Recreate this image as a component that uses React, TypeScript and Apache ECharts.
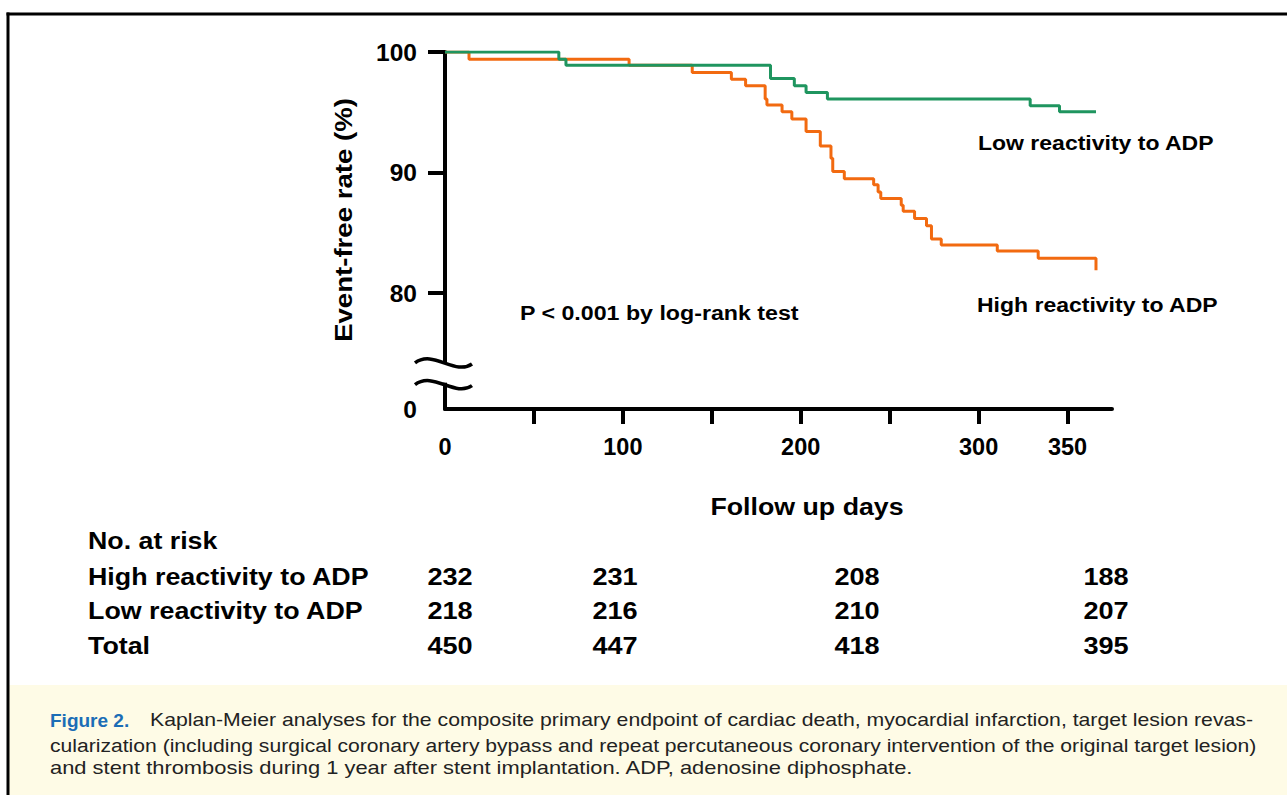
import { useEffect, useRef } from "react";
import * as echarts from "echarts";

const FONT = '"Liberation Sans", Arial, Helvetica, sans-serif';

// Kaplan-Meier step data (day, event-free %)
const highDays = [0, 13.5, 103.5, 139, 161, 169, 180, 181, 189.5, 195, 203, 211, 217, 218, 224.5, 241, 243.5, 245, 256.5, 257.6, 264, 270.7, 273.5, 279, 310.5, 333.5, 366];
const highSurvival = [100, 99.4, 98.9, 98.3, 97.75, 97.2, 96.1, 95.6, 95.05, 94.45, 93.4, 92.2, 91.2, 90.1, 89.5, 89.0, 88.4, 87.85, 87.3, 86.8, 86.2, 85.6, 84.5, 84.0, 83.5, 82.9, 81.9];
const lowDays = [0, 64, 68, 183, 196.4, 203, 215, 329, 345.5, 366];
const lowSurvival = [100, 99.4, 98.9, 97.8, 97.2, 96.65, 96.1, 95.55, 95.05, 95.05];

const groupNames = ["High reactivity to ADP", "Low reactivity to ADP"];

const xLabelValues = [0, 100, 200, 300, 350];
const xTickValues = [50, 100, 150, 200, 250, 300, 350];
const Y_MIN = 70.4;
const yTickValues = [80, 90, 100];
const yLabelValues = [Y_MIN, 80, 90, 100];

const riskTitle = "No. at risk";
const riskRows = ["High reactivity to ADP", "Low reactivity to ADP", "Total"];
const riskHigh = [232, 231, 208, 188];
const riskLow = [218, 216, 210, 207];
const riskTotal = [450, 447, 418, 395];

const pValueText = "P < 0.001 by log-rank test";
const yAxisTitle = "Event-free rate (%)";
const xAxisTitle = "Follow up days";

const captionLabel = "Figure 2.";
const captionLines = [
  "Kaplan-Meier analyses for the composite primary endpoint of cardiac death, myocardial infarction, target lesion revas-",
  "cularization (including surgical coronary artery bypass and repeat percutaneous coronary intervention of the original target lesion)",
  "and stent thrombosis during 1 year after stent implantation. ADP, adenosine diphosphate.",
];

const HIGH_COLOR = "#f26a10";
const LOW_COLOR = "#1f955f";

function baseGraphics(): any[] {
  const g: any[] = [];
  // caption background
  g.push({ id: "capbg", type: "rect", shape: { x: 9, y: 685, width: 1280, height: 112 }, style: { fill: "#fefbe6" }, silent: true, z: 0 });
  // frame
  g.push({ id: "ftop", type: "line", shape: { x1: 6.5, y1: 14, x2: 1290, y2: 14 }, style: { stroke: "#000", lineWidth: 3 }, z: 1 });
  g.push({ id: "fleft", type: "line", shape: { x1: 8, y1: 12.5, x2: 8, y2: 800 }, style: { stroke: "#000", lineWidth: 3 }, z: 1 });

  const bold = (id: string, text: string, x: number, y: number, size: number, sx: number, align = "left") => ({
    id, type: "text", x, y, scaleX: sx,
    style: { text, font: `bold ${size}px ${FONT}`, fill: "#000", align, verticalAlign: "middle" },
    z: 10,
  });

  g.push(bold("lowlbl", groupNames[1], 978, 143, 20, 1.15));
  g.push(bold("highlbl", groupNames[0], 977, 305, 20, 1.15));
  g.push(bold("pval", pValueText, 520, 313, 20, 1.16));
  g.push({
    id: "ytitle", type: "text", x: 344, y: 220, rotation: Math.PI / 2, scaleX: 1.2,
    style: { text: yAxisTitle, font: `bold 23px ${FONT}`, fill: "#000", align: "center", verticalAlign: "middle" }, z: 10,
  });
  g.push(bold("xtitle", xAxisTitle, 807, 507, 24, 1.115, "center"));

  // number at risk table
  const colX = [450, 615, 857, 1106];
  const rowY = [577, 611, 646];
  g.push(bold("risktitle", riskTitle, 88, 541, 24, 1.115));
  const rows = [riskHigh, riskLow, riskTotal];
  riskRows.forEach((name, r) => {
    g.push(bold("rn" + r, name, 88, rowY[r], 24, 1.118));
    rows[r].forEach((n, c) => g.push(bold(`rv${r}_${c}`, String(n), colX[c], rowY[r], 24, 1.13, "center")));
  });

  // caption
  g.push({
    id: "caplabel", type: "text", x: 50, y: 720,
    style: { text: captionLabel, font: `bold 19px "Liberation Sans Narrow", ${FONT}`, fill: "#1b6db6", align: "left", verticalAlign: "middle" }, z: 10,
  });
  const capX = [150, 50, 50];
  const capY = [720, 745, 768];
  const capScale = [1.153, 1.148, 1.19];
  captionLines.forEach((t, i) => {
    g.push({
      id: "cap" + i, type: "text", x: capX[i], y: capY[i], scaleX: capScale[i],
      style: { text: t, font: `18.4px ${FONT}`, fill: "#222", align: "left", verticalAlign: "middle" }, z: 10,
    });
  });
  return g;
}

export default function App() {
  const ref = useRef<HTMLDivElement>(null);
  useEffect(() => {
    if (!ref.current) return;
    const chart = echarts.init(ref.current, null, { renderer: "svg" });
    const option: any = {
      animation: false,
      backgroundColor: "#ffffff",
      grid: { left: 445, top: 52, width: 667, height: 357, containLabel: false },
      xAxis: {
        type: "value",
        min: 0,
        max: 375,
        axisLine: { show: true, onZero: false, lineStyle: { color: "#000", width: 4 } },
        axisTick: { show: true, length: 15, customValues: xTickValues, lineStyle: { color: "#000", width: 4 } },
        axisLabel: {
          customValues: xLabelValues,
          margin: 26,
          color: "#000",
          fontFamily: FONT,
          fontWeight: "bold",
          fontSize: 23.5,
        },
        splitLine: { show: false },
      },
      yAxis: {
        type: "value",
        min: Y_MIN,
        max: 100,
        axisLine: { show: true, lineStyle: { color: "#000", width: 4 } },
        axisTick: { show: true, length: 17, customValues: yTickValues, lineStyle: { color: "#000", width: 4 } },
        axisLabel: {
          customValues: yLabelValues,
          margin: 28,
          color: "#000",
          fontFamily: FONT,
          fontWeight: "bold",
          fontSize: 24.5,
          formatter: (v: number) => (Math.abs(v - Y_MIN) < 0.01 ? "0" : String(Math.round(v))),
        },
        splitLine: { show: false },
      },
      series: [
        {
          name: groupNames[0],
          type: "line",
          step: "end",
          showSymbol: false,
          data: highDays.map((d, i) => [d, highSurvival[i]]),
          lineStyle: { color: HIGH_COLOR, width: 3 },
          itemStyle: { color: HIGH_COLOR },
          z: 3,
        },
        {
          name: groupNames[1],
          type: "line",
          step: "end",
          showSymbol: false,
          data: lowDays.map((d, i) => [d, lowSurvival[i]]),
          lineStyle: { color: LOW_COLOR, width: 3 },
          itemStyle: { color: LOW_COLOR },
          z: 4,
        },
      ],
      graphic: baseGraphics(),
    };
    chart.setOption(option);

    // axis break marks on the y axis
    const top = chart.convertToPixel({ gridIndex: 0 } as any, [0, 74.3]) as number[];
    const bot = chart.convertToPixel({ gridIndex: 0 } as any, [0, 72.5]) as number[];
    const ax = top[0];
    const curve = (id: string, y: number) => ({
      id, type: "bezierCurve",
      shape: { x1: ax - 30, y1: y + 1, cpx1: ax - 12, cpy1: y - 13, cpx2: ax + 10, cpy2: y + 14, x2: ax + 27, y2: y + 2 },
      style: { stroke: "#000", lineWidth: 3.5, fill: null },
      z: 20,
    });
    const extra = [
      { id: "brkgap", type: "rect", shape: { x: ax - 4, y: top[1] + 1, width: 8, height: bot[1] - top[1] - 2 }, style: { fill: "#fff" }, z: 19 },
      curve("brk1", top[1]),
      curve("brk2", bot[1]),
    ];
    chart.setOption({ graphic: [...baseGraphics(), ...extra] });

    return () => chart.dispose();
  }, []);
  return (
    <div
      ref={ref}
      style={{ position: "fixed", left: 0, top: 0, width: 1287, height: 795, background: "#fff" }}
    />
  );
}
